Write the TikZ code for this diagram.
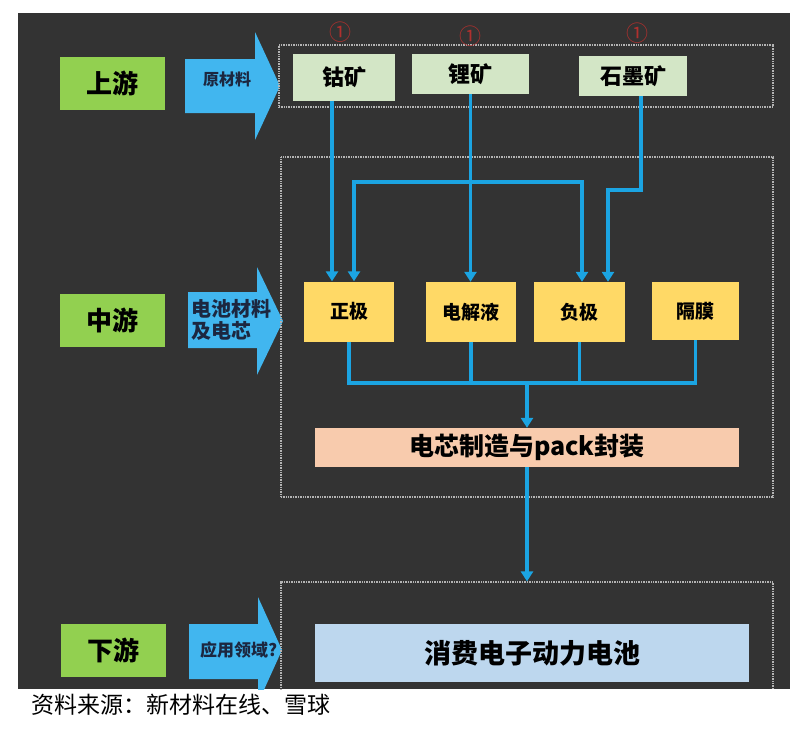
\documentclass[tikz,border=0pt]{standalone}
\usepackage{fontspec}
\newfontfamily\cjk{Noto Sans CJK SC}
\usetikzlibrary{arrows.meta,positioning,calc}

\definecolor{bgdark}{HTML}{333333}
\definecolor{stagegreen}{HTML}{92D050}
\definecolor{flowblue}{HTML}{41B6EF}
\definecolor{linkblue}{HTML}{1BA4E2}
\definecolor{oregreen}{HTML}{D3E6C6}
\definecolor{partyellow}{HTML}{FFD966}
\definecolor{packpeach}{HTML}{F8CBAD}
\definecolor{appblue}{HTML}{BDD7EE}
\definecolor{framegray}{HTML}{B4B4B4}
\definecolor{flowtext}{HTML}{1C2740}
\definecolor{markred}{HTML}{B0302E}

\begin{document}
\begin{tikzpicture}[x=1pt, y=-1pt,
  stage/.style={fill=stagegreen, inner sep=0pt, minimum width=105pt,
                minimum height=53pt, font=\cjk\bfseries\fontsize{26}{26}\selectfont},
  ore/.style={fill=oregreen, inner sep=0pt, minimum height=40pt,
              font=\cjk\bfseries\fontsize{22}{22}\selectfont},
  part/.style={fill=partyellow, inner sep=0pt, minimum width=90pt,
               minimum height=60pt, font=\cjk\bfseries\fontsize{19}{19}\selectfont},
  flow/.style={fill=flowblue},
  flowlabel/.style={text=flowtext, inner sep=0pt, align=left},
  frame/.style={draw=framegray, line width=1.2pt, dash pattern=on 1pt off 0.7pt},
  circnum/.style={text=markred, font=\cjk\fontsize{22}{22}\selectfont},
  link/.style={draw=linkblue, line width=3.8pt},
  arr/.style={link, -{Triangle[width=12pt, length=10pt]}}
]
  \useasboundingbox (0,0) rectangle (801,729);
  \fill[white] (0,0) rectangle (801,729);
  \fill[bgdark] (18,13) rectangle (790,689);

  \begin{scope}
    \clip (18,13) rectangle (790,689);

    % stages on the left
    \node[stage] (up)   at (112.5,83.5) {上游};
    \node[stage] (mid)  at (112,320.5)  {中游};
    \node[stage] (down) at (113,650)    {下游};

    % block arrows
    \fill[flow] (185,59) -- (255,59) -- (255,32) -- (280,86) -- (255,140) -- (255,113) -- (185,113) -- cycle;
    \fill[flow] (188,292) -- (257,292) -- (257,267) -- (283,321) -- (257,375) -- (257,348) -- (188,348) -- cycle;
    \fill[flow] (189,624) -- (258,624) -- (258,597) -- (282,650) -- (258,703) -- (258,679) -- (189,679) -- cycle;
    \node[flowlabel, font=\cjk\bfseries\fontsize{16}{16}\selectfont] (rawlbl) at (227,79) {原材料};
    \node[flowlabel, anchor=west, font=\cjk\bfseries\fontsize{20}{22}\selectfont] (celllbl) at (191,320) {电池材料\\及电芯};
    \node[flowlabel, anchor=west, font=\cjk\bfseries\fontsize{17}{17}\selectfont] (applbl) at (200,650) {应用领域?};

    % frames
    \node[frame, minimum width=494pt, minimum height=62pt] (F1) at (526,76) {};
    \node[frame, minimum width=492pt, minimum height=340pt] (F2) at (527,327) {};
    \node[frame, minimum width=492pt, minimum height=130pt] (F3) at (527,647) {};

    % raw materials
    \node[ore, minimum width=102pt, minimum height=47pt] (co) at (344,77.5) {钴矿};
    \node[ore, minimum width=117pt] (li) at (470.5,74) {锂矿};
    \node[ore, minimum width=108pt] (gr) at (633,76) {石墨矿};
    \node[circnum] (c1) at (340,32) {①};
    \node[circnum] (c2) at (470,36) {①};
    \node[circnum] (c3) at (637,33) {①};

    % battery materials
    \node[part] (zj) at (349,311.5) {正极};
    \node[part] (dj) at (471,312) {电解液};
    \node[part, minimum width=91pt] (fj) at (579.5,312) {负极};
    \node[part, minimum width=87pt, minimum height=58pt] (gm) at (695.5,311) {隔膜};

    \node[fill=packpeach, inner sep=0pt, minimum width=424pt, minimum height=39pt,
          font=\cjk\bfseries\fontsize{25}{25}\selectfont] (pack) at (527,447.5) {电芯制造与pack封装};
    \node[fill=appblue, inner sep=0pt, minimum width=434pt, minimum height=58pt,
          font=\cjk\bfseries\fontsize{27}{27}\selectfont] (app) at (532,653) {消费电子动力电池};

    % connectors
    \coordinate (split) at (li.south |- 0,182);
    \draw[arr] ([xshift=-12pt]co.south) -- ([xshift=-12pt]co.south |- zj.north);
    \draw[arr] (li.south) -- (li.south |- dj.north);
    \draw[arr] (split) -| ([xshift=5pt]zj.north);
    \draw[arr] (split) -| ([xshift=2.5pt]fj.north);
    \draw[arr] ([xshift=8pt]gr.south) |- ([xshift=28.5pt]fj.north |- 0,190) -- ([xshift=28.5pt]fj.north);

    \coordinate (merge) at (pack.north |- 0,383);
    \draw[link] (zj.south) |- (gm.south |- merge) -- (gm.south);
    \draw[link] (dj.south) -- (dj.south |- merge);
    \draw[link] (fj.south) -- (fj.south |- merge);
    \draw[arr] (merge) -- (pack.north);
    \draw[arr] (pack.south) -- (pack.south |- F3.north);
  \end{scope}

  \node[anchor=west, inner sep=0pt, font=\cjk\fontsize{23}{23}\selectfont] (src) at (31,705) {资料来源：新材料在线、雪球};
\end{tikzpicture}
\end{document}
